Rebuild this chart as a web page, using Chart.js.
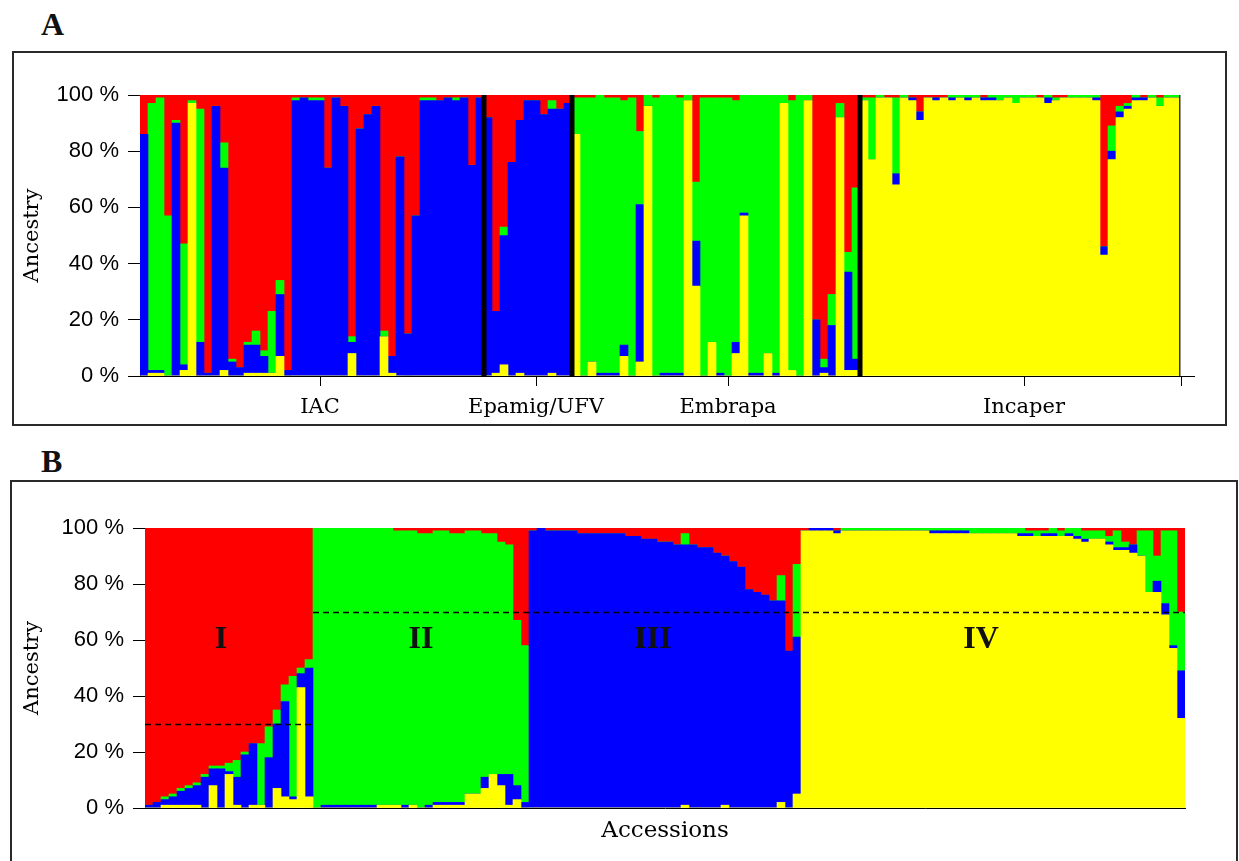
<!DOCTYPE html>
<html>
<head>
<meta charset="utf-8">
<script src="https://cdn.jsdelivr.net/npm/chart.js@4.4.1/dist/chart.umd.min.js"></script>
<style>
  html, body { margin: 0; padding: 0; background: #fff; width: 1239px; height: 861px; overflow: hidden; }
  canvas { position: absolute; left: 0; }
  #chartA { top: 0; }
  #chartB { top: 440px; }
  .frame { position: absolute; border: 2px solid #2a2a2a; box-sizing: border-box; pointer-events: none; }
  #frameA { left: 12px; top: 51px; width: 1215px; height: 375px; }
  #frameB { left: 10px; top: 480px; width: 1228px; height: 420px; }
  .panel { position: absolute; left: 41px; font: bold 32px "Liberation Serif", serif; line-height: 32px; color: #111; }
</style>
</head>
<body>
<div class="panel" style="top:8px">A</div>
<div class="panel" style="top:445px">B</div>
<canvas id="chartA" width="1239" height="440"></canvas>
<canvas id="chartB" width="1239" height="421"></canvas>
<div class="frame" id="frameA"></div>
<div class="frame" id="frameB"></div>
<script>
// cluster colours (STRUCTURE K = 4), stacked bottom -> top
const colYellow = '#ffff00';
const colBlue = '#0000ff';
const colGreen = '#00ff00';
const colRed = '#ff0000';

// ---- panel A : accessions in collection order ----
const aGroups = ['IAC', 'Epamig/UFV', 'Embrapa', 'Incaper'];
const aGroupSizes = [43, 11, 36, 40];
const aGroupTicks = [22, 49, 73, 110];

const aYellow = [
  0, 1, 1, 0, 0, 2, 97, 0, 0, 0,
  2, 0, 0, 1, 1, 1, 1, 7, 0, 0,
  0, 0, 0, 0, 0, 0, 8, 0, 0, 0,
  14, 1, 0, 0, 0, 0, 0, 0, 0, 0,
  0, 0, 0, 0, 1, 4, 0, 1, 0, 0,
  0, 1, 0, 0, 86, 0, 5, 0, 0, 0,
  7, 0, 5, 96, 0, 0, 0, 0, 98, 32,
  0, 12, 0, 0, 8, 57, 0, 0, 8, 0,
  97, 2, 0, 98, 0, 1, 0, 92, 2, 2,
  98, 77, 99, 99, 68, 99, 98, 91, 99, 98,
  99, 98, 99, 98, 99, 98, 98, 98, 99, 97,
  99, 99, 99, 97, 98, 99, 99, 99, 99, 98,
  43, 77, 92, 95, 98, 98, 99, 96, 99, 99
];
const aBlue = [
  86, 1, 1, 0, 90, 2, 0, 12, 1, 96,
  72, 5, 3, 10, 10, 6, 0, 22, 2, 98,
  99, 98, 98, 74, 99, 96, 4, 88, 93, 96,
  0, 6, 78, 15, 57, 98, 98, 98, 99, 98,
  99, 75, 99, 92, 22, 46, 76, 90, 98, 98,
  93, 94, 95, 97, 0, 0, 0, 1, 1, 1,
  4, 0, 56, 0, 0, 1, 1, 1, 0, 16,
  0, 0, 1, 0, 4, 1, 1, 1, 0, 1,
  0, 0, 0, 0, 20, 2, 18, 0, 35, 4,
  0, 0, 0, 0, 4, 0, 1, 3, 0, 1,
  0, 1, 0, 1, 0, 1, 1, 0, 0, 0,
  0, 0, 0, 2, 0, 0, 0, 0, 0, 1,
  3, 3, 2, 1, 1, 1, 0, 0, 0, 0
];
const aGreen = [
  0, 95, 97, 57, 1, 43, 1, 83, 0, 0,
  9, 1, 0, 1, 5, 2, 22, 5, 0, 1,
  0, 1, 1, 0, 0, 0, 2, 0, 0, 0,
  2, 0, 0, 0, 0, 1, 1, 0, 0, 1,
  0, 0, 0, 0, 0, 3, 0, 0, 0, 0,
  0, 3, 0, 0, 13, 99, 94, 99, 98, 98,
  87, 99, 26, 4, 99, 99, 99, 98, 2, 21,
  99, 87, 98, 99, 86, 42, 99, 99, 92, 99,
  3, 96, 100, 2, 0, 3, 11, 5, 7, 61,
  1, 22, 1, 0, 27, 1, 0, 0, 0, 0,
  0, 1, 1, 1, 1, 0, 1, 2, 1, 3,
  1, 1, 0, 1, 1, 0, 1, 1, 1, 1,
  0, 9, 2, 1, 1, 0, 1, 3, 1, 1
];
const aRed = [
  14, 3, 1, 43, 9, 53, 2, 5, 99, 4,
  17, 94, 97, 88, 84, 91, 77, 66, 98, 1,
  1, 1, 1, 26, 1, 4, 86, 12, 7, 4,
  84, 93, 22, 85, 43, 1, 1, 2, 1, 1,
  1, 25, 1, 8, 77, 47, 24, 9, 2, 2,
  7, 2, 5, 3, 1, 1, 1, 0, 1, 1,
  2, 1, 13, 0, 1, 0, 0, 1, 0, 31,
  1, 1, 1, 1, 2, 0, 0, 0, 0, 0,
  0, 2, 0, 0, 80, 94, 71, 3, 56, 33,
  1, 1, 0, 1, 1, 0, 1, 6, 1, 1,
  1, 0, 0, 0, 0, 1, 0, 0, 0, 0,
  0, 0, 1, 0, 1, 1, 0, 0, 0, 0,
  54, 11, 4, 3, 0, 1, 0, 1, 0, 0
];

// ---- panel B : accessions sorted by cluster ----
const bGroups = ['I', 'II', 'III', 'IV'];
const bGroupSizes = [21, 27, 34, 48];
const bGroupLabelAt = [9, 34, 63, 104];
const bCutValues = [30, 70];
const bCutSpans = [[0, 20], [21, 129]];

const bYellow = [
  0, 0, 1, 1, 1, 1, 1, 0, 8, 0,
  12, 1, 0, 1, 1, 0, 7, 4, 3, 43,
  4, 0, 0, 0, 0, 0, 0, 0, 0, 1,
  1, 1, 0, 1, 0, 0, 1, 1, 1, 1,
  5, 5, 7, 12, 8, 1, 3, 0, 0, 0,
  0, 0, 0, 0, 0, 0, 0, 0, 0, 0,
  0, 0, 0, 0, 0, 0, 0, 1, 0, 0,
  0, 0, 1, 0, 0, 0, 0, 0, 0, 2,
  0, 5, 99, 99, 99, 99, 98, 99, 99, 99,
  99, 99, 99, 99, 99, 99, 99, 99, 98, 98,
  98, 98, 98, 98, 98, 98, 98, 98, 98, 97,
  97, 97, 97, 97, 97, 97, 96, 95, 96, 96,
  94, 92, 92, 91, 90, 77, 77, 69, 57, 32
];
const bBlue = [
  1, 2, 2, 3, 5, 6, 7, 11, 6, 14,
  1, 10, 19, 22, 0, 18, 23, 34, 1, 5,
  46, 0, 1, 1, 1, 1, 1, 1, 1, 0,
  0, 0, 1, 0, 0, 1, 1, 1, 1, 1,
  0, 0, 4, 0, 4, 11, 5, 2, 99, 100,
  99, 99, 99, 99, 98, 98, 98, 98, 98, 98,
  97, 97, 96, 96, 95, 95, 94, 93, 94, 93,
  93, 91, 89, 88, 86, 78, 77, 76, 74, 72,
  56, 56, 0, 1, 1, 1, 1, 0, 0, 0,
  0, 0, 0, 0, 0, 0, 0, 0, 1, 1,
  1, 1, 1, 0, 0, 0, 0, 0, 0, 1,
  1, 0, 1, 1, 0, 1, 1, 1, 0, 0,
  1, 1, 1, 3, 0, 0, 4, 4, 1, 17
];
const bGreen = [
  0, 0, 1, 1, 1, 1, 1, 1, 1, 1,
  3, 6, 1, 0, 22, 11, 5, 6, 43, 2,
  3, 100, 99, 99, 99, 99, 99, 99, 99, 99,
  99, 98, 98, 98, 98, 97, 97, 97, 96, 96,
  94, 94, 87, 86, 83, 82, 59, 56, 0, 0,
  0, 0, 0, 0, 0, 0, 0, 0, 0, 0,
  0, 0, 0, 0, 0, 0, 0, 4, 0, 0,
  0, 0, 0, 0, 0, 0, 0, 0, 0, 9,
  0, 26, 0, 0, 0, 0, 0, 1, 1, 1,
  1, 1, 1, 1, 1, 1, 1, 1, 1, 1,
  1, 1, 1, 2, 2, 2, 2, 2, 2, 2,
  1, 2, 1, 2, 2, 2, 3, 3, 3, 3,
  2, 6, 2, 0, 9, 22, 9, 26, 41, 21
];
const bRed = [
  99, 98, 96, 95, 93, 92, 91, 88, 85, 85,
  84, 83, 80, 77, 77, 71, 65, 56, 53, 50,
  47, 0, 0, 0, 0, 0, 0, 0, 0, 0,
  0, 1, 1, 1, 2, 2, 1, 1, 2, 2,
  1, 1, 2, 2, 5, 6, 33, 42, 1, 0,
  1, 1, 1, 1, 2, 2, 2, 2, 2, 2,
  3, 3, 4, 4, 5, 5, 6, 2, 6, 7,
  7, 9, 10, 12, 14, 22, 23, 24, 26, 17,
  44, 13, 1, 0, 0, 0, 1, 0, 0, 0,
  0, 0, 0, 0, 0, 0, 0, 0, 0, 0,
  0, 0, 0, 0, 0, 0, 0, 0, 0, 0,
  1, 1, 1, 0, 1, 0, 0, 1, 1, 1,
  3, 1, 5, 6, 1, 1, 10, 1, 1, 30
];

// accession ids, one per bar
const makeLabels = (names, sizes) => {
  const out = [];
  names.forEach((n, g) => {
    for (let i = 1; i <= sizes[g]; i++) out.push(n + '-' + i);
  });
  return out;
};
const aLabels = makeLabels(aGroups, aGroupSizes);
const bLabels = makeLabels(bGroups, bGroupSizes);

const makeSets = (y, b, g, r) => [
  { label: 'K1', data: y, backgroundColor: colYellow },
  { label: 'K2', data: b, backgroundColor: colBlue },
  { label: 'K3', data: g, backgroundColor: colGreen },
  { label: 'K4', data: r, backgroundColor: colRed },
];

const tickFont = { family: '"Liberation Sans", Arial, sans-serif', size: 22 };
const serif = '"DejaVu Serif", serif';

const yAxis = (w) => ({
  stacked: true,
  min: 0,
  max: 100,
  ticks: { stepSize: 20, callback: (v) => v + ' %', font: tickFont, color: '#000', padding: 9 },
  grid: { drawOnChartArea: false, tickLength: 12, color: '#000' },
  border: { display: true, color: '#000', width: 1 },
  title: { display: true, text: 'Ancestry', color: '#000', font: { family: serif, size: 21 }, padding: { top: 20 } },
  afterFit: (s) => { s.width = w; },
});

// thick black separators between collections
const aSeparators = {
  id: 'aSeparators',
  afterDatasetsDraw(chart) {
    const { ctx, chartArea, scales: { x } } = chart;
    const half = (x.getPixelForValue(1) - x.getPixelForValue(0)) / 2;
    ctx.save();
    ctx.fillStyle = '#000';
    let idx = 0;
    aGroupSizes.slice(0, -1).forEach((n) => {
      idx += n;
      const px = x.getPixelForValue(idx) - half;
      ctx.fillRect(px - 2.5, chartArea.top, 5, chartArea.bottom - chartArea.top);
    });
    ctx.fillStyle = '#333';
    ctx.fillRect(chartArea.right - 1, chartArea.top, 1.5, chartArea.bottom - chartArea.top);
    // axis line runs a bit past the last bar
    ctx.fillStyle = '#000';
    ctx.fillRect(chartArea.left, chartArea.bottom, chartArea.right - chartArea.left + 15, 1);
    ctx.fillRect(chartArea.right + 1, chartArea.bottom, 1, 10);
    ctx.restore();
  },
};

new Chart(document.getElementById('chartA'), {
  type: 'bar',
  data: { labels: aLabels, datasets: makeSets(aYellow, aBlue, aGreen, aRed) },
  options: {
    responsive: false,
    animation: false,
    devicePixelRatio: 1,
    layout: { padding: { left: 0, top: 95, right: 59, bottom: 0 } },
    datasets: { bar: { barPercentage: 1, categoryPercentage: 1, borderWidth: 0 } },
    plugins: { legend: { display: false }, tooltip: { enabled: false } },
    scales: {
      x: {
        stacked: true,
        ticks: {
          autoSkip: false,
          maxRotation: 0,
          minRotation: 0,
          padding: 9,
          color: '#000',
          font: { family: serif, size: 21 },
          callback: (v, i) => (aGroupTicks.includes(i) ? aGroups[aGroupTicks.indexOf(i)] : ''),
        },
        grid: {
          offset: false,
          drawOnChartArea: false,
          tickLength: 10,
          color: (c) => (aGroupTicks.includes(c.index) ? '#000' : 'rgba(0,0,0,0)'),
        },
        border: { display: true, color: '#000', width: 1 },
        afterFit: (s) => { s.height = 64; },
      },
      y: yAxis(140),
    },
  },
  plugins: [aSeparators],
});

// dashed membership cut-offs and cluster names
const bMarks = {
  id: 'bMarks',
  afterDatasetsDraw(chart) {
    const { ctx, scales: { x, y } } = chart;
    const half = (x.getPixelForValue(1) - x.getPixelForValue(0)) / 2;
    ctx.save();
    ctx.strokeStyle = '#000';
    ctx.lineWidth = 1.5;
    ctx.setLineDash([6, 4]);
    bCutValues.forEach((v, k) => {
      const py = Math.round(y.getPixelForValue(v)) + 0.5;
      ctx.beginPath();
      ctx.moveTo(x.getPixelForValue(bCutSpans[k][0]) - half, py);
      ctx.lineTo(x.getPixelForValue(bCutSpans[k][1]) + half, py);
      ctx.stroke();
    });
    ctx.setLineDash([]);
    ctx.fillStyle = '#111';
    ctx.font = 'bold 32px "Liberation Serif", serif';
    ctx.textAlign = 'center';
    ctx.textBaseline = 'middle';
    bGroups.forEach((g, k) => {
      ctx.fillText(g, x.getPixelForValue(bGroupLabelAt[k]), y.getPixelForValue(60));
    });
    ctx.restore();
  },
};

new Chart(document.getElementById('chartB'), {
  type: 'bar',
  data: { labels: bLabels, datasets: makeSets(bYellow, bBlue, bGreen, bRed) },
  options: {
    responsive: false,
    animation: false,
    devicePixelRatio: 1,
    layout: { padding: { left: 0, top: 88, right: 54, bottom: 0 } },
    datasets: { bar: { barPercentage: 1, categoryPercentage: 1, borderWidth: 0 } },
    plugins: { legend: { display: false }, tooltip: { enabled: false } },
    scales: {
      x: {
        stacked: true,
        ticks: { display: false },
        grid: { display: false },
        border: { display: true, color: '#000', width: 1 },
        title: { display: true, text: 'Accessions', color: '#000', font: { family: serif, size: 23 }, padding: { top: 0, bottom: 16 } },
        afterFit: (s) => { s.height = 53; },
      },
      y: yAxis(145),
    },
  },
  plugins: [bMarks],
});
</script>
</body>
</html>
